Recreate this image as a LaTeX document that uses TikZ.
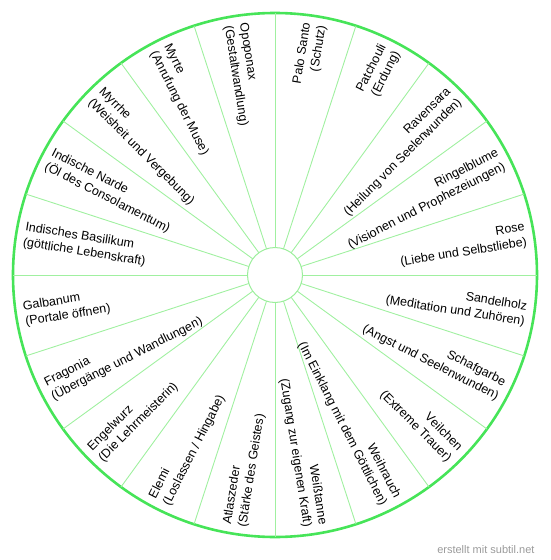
\documentclass[tikz,border=0pt]{standalone}
\usepackage{fontspec}
\setmainfont{Liberation Sans}
\usepackage{tikz}
\usetikzlibrary{shapes.geometric, positioning, calc}
\definecolor{rimgreen}{HTML}{46E458}
\definecolor{spokegreen}{HTML}{A0F0A0}
\definecolor{hubgreen}{HTML}{9CEE9C}
\definecolor{signgray}{HTML}{9A9A9A}

\begin{document}
\begin{tikzpicture}[
  x=1pt, y=1pt,
  rim/.style={
    circle, draw=rimgreen, line width=2.6pt, minimum size=524pt,
    inner sep=0pt, outer sep=0pt,
  },
  hub/.style={
    circle, draw=hubgreen, line width=1pt, minimum size=55pt,
    inner sep=0pt, outer sep=0pt,
  },
  spoke/.style={draw=spokegreen, line width=0.9pt},
  oilright/.style={
    anchor=east, rotate=#1, align=right, inner sep=0pt,
    font=\fontsize{12.5}{15.5}\selectfont, text=black,
  },
  oilleft/.style={
    anchor=west, rotate=#1-180, align=left, inner sep=0pt,
    font=\fontsize{12.5}{15.5}\selectfont, text=black,
  },
  sign/.style={font=\fontsize{11}{13}\selectfont, text=signgray, anchor=south east},
]
  \useasboundingbox (-275,-285) rectangle (275,275);

  % Wheel
  \node[rim] (wheel) at (0,0) {};
  \node[hub] (core) at (0,0) {};
  \foreach \a in {0,18,...,342}
    \draw[spoke] (core.\a) -- (wheel.\a);

  % Right half (Palo Santo ... Weisstanne)
  \foreach \i/\a/\txt in {
    1/81/{Palo Santo\\(Schutz)},
    2/63/{Patchouli\\(Erdung)},
    3/45/{Ravensara\\(Heilung von Seelenwunden)},
    4/27/{Ringelblume\\(Visionen und Prophezeiungen)},
    5/9/{Rose\\(Liebe und Selbstliebe)},
    6/-9/{Sandelholz\\(Meditation und Zuhören)},
    7/-27/{Schafgarbe\\(Angst und Seelenwunden)},
    8/-45/{Veilchen\\(Extreme Trauer)},
    9/-63/{Weihrauch\\(Im Einklang mit dem Göttlichen)},
    10/-81/{Weißtanne\\(Zugang zur eigenen Kraft)}}
    \node[oilright=\a] (oil\i) at (\a:254) {\txt};

  % Left half (Atlaszeder ... Opoponax)
  \foreach \i/\a/\txt in {
    11/261/{Atlaszeder\\(Stärke des Geistes)},
    12/243/{Elemi\\(Loslassen / Hingabe)},
    13/225/{Engelwurz\\(Die Lehrmeisterin)},
    14/207/{Fragonia\\(Übergänge und Wandlungen)},
    15/189/{Galbanum\\(Portale öffnen)},
    16/171/{Indisches Basilikum\\(göttliche Lebenskraft)},
    17/153/{Indische Narde\\(Öl des Consolamentum)},
    18/135/{Myrrhe\\(Weisheit und Vergebung)},
    19/117/{Myrte\\(Anrufung der Muse)},
    20/99/{Opoponax\\(Gestaltwandlung)}}
    \node[oilleft=\a] (oil\i) at (\a:254) {\txt};

  % Credit
  \node[sign] (credit) at (263,-282) {erstellt mit subtil.net};
\end{tikzpicture}
\end{document}
